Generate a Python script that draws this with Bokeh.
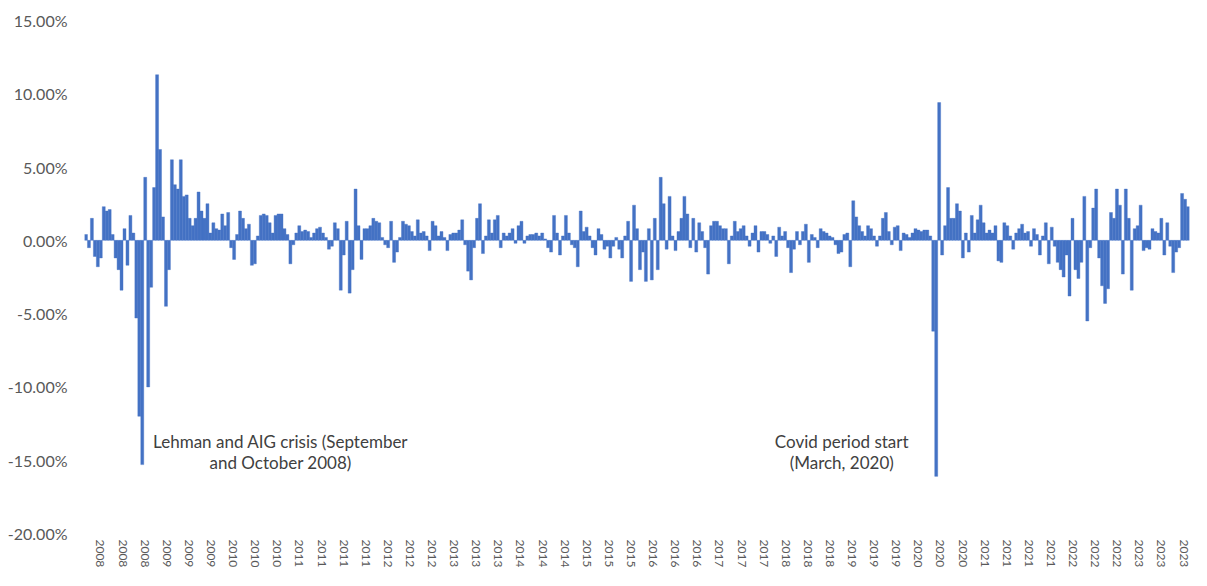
from bokeh.plotting import figure
from bokeh.models import ColumnDataSource, FixedTicker, Range1d, Label, CustomJSTickFormatter
from bokeh.embed import file_html
from bokeh.resources import INLINE

# Daily return series (%) in consecutive slices
returns_2008_2010 = [
    0.4, -0.5, 1.5, -1.1, -1.8, -1.2, 2.3, 2.0, 2.1, 0.4,
    -1.2, -2.0, -3.4, 0.8, -1.7, 1.7, 0.5, -5.3, -12.0, -15.3,
    4.3, -10.0, -3.2, 3.6, 11.3, 6.2, 1.6, -4.5, -2.0, 5.5,
    3.8, 3.5, 5.5, 3.0, 3.1, 1.5, 1.0, 1.5, 3.3, 2.0,
    1.5, 2.5, 0.5, 1.2, 0.8, 0.7, 1.8, 1.0, 1.9, -0.5,
    -1.3, 0.4, 2.0, 1.5, 0.8, 1.1, -1.7, -1.6, 0.3, 1.7,
    1.8, 1.7,
]
returns_2010_2013 = [
    1.2, 0.5, 1.7, 1.8, 1.8, 0.8, 0.4, -1.6, -0.3, 0.5,
    1.0, 0.6, 0.7, 0.6, 0.2, 0.5, 0.8, 0.9, 0.5, 0.2,
    -0.6, -0.4, 1.2, 0.8, -3.4, -1.0, 1.3, -3.6, -2.0, 3.5,
    1.0, -1.3, 0.8, 0.8, 1.0, 1.5, 1.3, 1.2, 0.2, -0.3,
    -0.5, 1.3, -1.5, -0.8, 0.2, 1.3, 1.1, 1.0, 0.6, 0.3,
    1.4, 0.5, 0.6, 0.3, -0.7, 1.3, 1.0, 0.3, 0.6, 0.2,
    -0.7, 0.4,
]
returns_2013_2015 = [
    0.5, 0.5, 0.7, 1.4, -0.3, -2.1, -2.7, -0.5, 1.5, 2.5,
    -0.9, 0.3, 1.4, 0.5, 1.4, 1.7, -0.5, 0.5, 0.3, 0.5,
    0.8, -0.2, 1.0, 1.3, -0.2, 0.3, 0.4, 0.4, 0.5, 0.3,
    0.5, 0.1, -0.5, -0.8, 1.7, 0.5, -1.0, 0.3, 1.7, 0.5,
    -0.3, -0.5, -1.8, 2.0, 0.6, 0.9, 0.3, -0.5, -1.0, 0.8,
    0.4, -0.6, -0.4, -1.2, -0.4, 0.2, -0.6, -1.2, 0.3, 1.3,
    -2.8,
]
returns_2015_2019 = [
    2.4, 0.8, -2.0, -0.8, -2.8, 0.8, -2.7, 1.5, -2.0, 4.3,
    2.5, -0.6, 3.0, 0.3, -0.7, 0.6, 1.5, 3.0, 1.8, -0.5,
    1.5, -0.8, 1.2, 0.6, -0.5, -2.3, 1.0, 1.3, 1.3, 1.0,
    0.8, 0.8, -1.6, 0.3, 1.3, 0.6, 0.8, 1.0, 0.3, -0.4,
    0.5, 1.0, -0.8, 0.6, 0.6, 0.4, -0.2, 0.3, -1.1, 0.9,
    0.3, 0.6, -0.5, -2.2, -0.6, 0.6, -0.3, 0.6, 1.1, -1.5,
    0.4, 0.2,
]
returns_2019_2021 = [
    -0.5, 0.8, 0.6, 0.5, 0.3, 0.2, -0.3, -0.9, -0.8, 0.4,
    0.5, -1.8, 2.7, 1.6, 1.0, 0.6, 0.3, 1.0, 0.8, 0.3,
    -0.4, 0.3, 1.5, 1.9, 0.6, -0.3, 0.9, 1.0, -0.7, 0.5,
    0.4, 0.2, 0.5, 0.8, 0.7, 0.6, 0.7, 0.7, 0.3, -6.2,
    -16.1, 9.4, -1.0, 1.0, 3.6, 1.5, 1.5, 2.5, 2.0, -1.2,
    0.5, -0.8, 1.7, 0.5, 1.4, 2.4, 1.2, 0.5, 0.7, 0.5,
    1.0,
]
returns_2021_2023 = [
    -1.4, -1.5, 1.2, 1.0, 0.3, -0.6, 0.5, 0.8, 1.1, 0.5,
    0.6, -0.4, 0.8, 0.4, -1.0, 0.3, 1.2, -1.6, 0.9, -0.4,
    -1.5, -2.0, -2.5, -1.0, -3.8, 1.5, -2.0, -2.6, -1.5, 3.0,
    -5.5, -0.5, 2.2, 3.5, -1.2, -3.1, -4.3, -3.3, 1.9, 1.5,
    3.5, 2.4, -2.3, 3.5, 1.5, -3.4, 0.8, 1.0, 2.4, -0.7,
    -0.5, -0.6, 0.8, 0.6, 0.5, 1.5, -1.0, 1.2, -0.4, -2.2,
    -0.8, -0.5, 3.2, 2.8, 2.3,
]

tick_years = [
    "2008", "2008", "2008", "2009", "2009", "2009", "2010", "2010", "2010",
    "2011", "2011", "2011", "2011", "2012", "2012", "2012", "2013", "2013", "2013",
    "2014", "2014", "2014", "2015", "2015", "2015", "2016", "2016", "2016",
    "2017", "2017", "2017", "2018", "2018", "2018", "2019", "2019", "2019",
    "2020", "2020", "2020", "2021", "2021", "2021", "2021",
    "2022", "2022", "2022", "2023", "2023", "2023",
]

y_ticks = [-20, -15, -10, -5, 0, 5, 10, 15]

returns = (returns_2008_2010 + returns_2010_2013 + returns_2013_2015
           + returns_2015_2019 + returns_2019_2021 + returns_2021_2023)
n = len(returns)
src = ColumnDataSource(dict(x=list(range(n)), r=returns))

p = figure(width=1191, height=570,
           x_range=Range1d(-0.5, n - 0.5), y_range=Range1d(-20, 15),
           output_backend="svg", toolbar_location=None,
           min_border_left=84, min_border_right=2,
           min_border_top=20, min_border_bottom=34)
p.outline_line_color = None
p.xgrid.visible = False
p.ygrid.visible = False
p.background_fill_color = "white"
p.border_fill_color = "white"

p.vbar(x="x", top="r", width=1.0, source=src,
       fill_color="#4472C4", line_color="#4472C4", line_width=0.4)

label_color = "#595959"
font = "Lato"

# y axis
p.yaxis.ticker = FixedTicker(ticks=y_ticks)
p.yaxis.major_label_overrides = {v: f"{v:.2f}%" for v in y_ticks}
p.yaxis.axis_line_color = None
p.yaxis.major_tick_line_color = None
p.yaxis.minor_tick_line_color = None
p.yaxis.major_tick_out = 0
p.yaxis.major_tick_in = 0
p.yaxis.minor_tick_out = 0
p.yaxis.major_label_text_font = font
p.yaxis.major_label_text_font_size = "16px"
p.yaxis.major_label_text_color = label_color
p.yaxis.major_label_standoff = 17

# x axis: repeated year labels, vertical
t0 = 4.9
t_end = n - 2.5
step = (t_end - t0) / (len(tick_years) - 1)
x_ticks = [t0 + step * k for k in range(len(tick_years))]
p.xaxis.ticker = FixedTicker(ticks=x_ticks)
p.xaxis.formatter = CustomJSTickFormatter(
    args=dict(labels=tick_years, t0=t0, step=step),
    code="const k = Math.round((tick - t0) / step); return labels[k] || '';")
p.xaxis.major_label_orientation = "vertical"
p.xaxis.axis_line_color = None
p.xaxis.major_tick_line_color = None
p.xaxis.minor_tick_line_color = None
p.xaxis.major_tick_out = 0
p.xaxis.major_tick_in = 0
p.xaxis.minor_tick_out = 0
p.xaxis.major_label_text_font = font
p.xaxis.major_label_text_font_size = "12px"
p.xaxis.major_label_text_color = label_color
p.xaxis.major_label_standoff = 6

ann_color = "#404040"
for txt, xx, yy in [
    ("Lehman and AIG crisis (September", 65.7, -13.70),
    ("and October 2008)", 65.7, -15.19),
    ("Covid period start", 255.1, -13.70),
    ("(March, 2020)", 255.1, -15.19),
]:
    p.add_layout(Label(x=xx, y=yy, text=txt, text_align="center",
                       text_baseline="middle", text_font=font,
                       text_font_size="17px", text_color=ann_color))

open("out.html", "w").write(file_html(p, INLINE))
